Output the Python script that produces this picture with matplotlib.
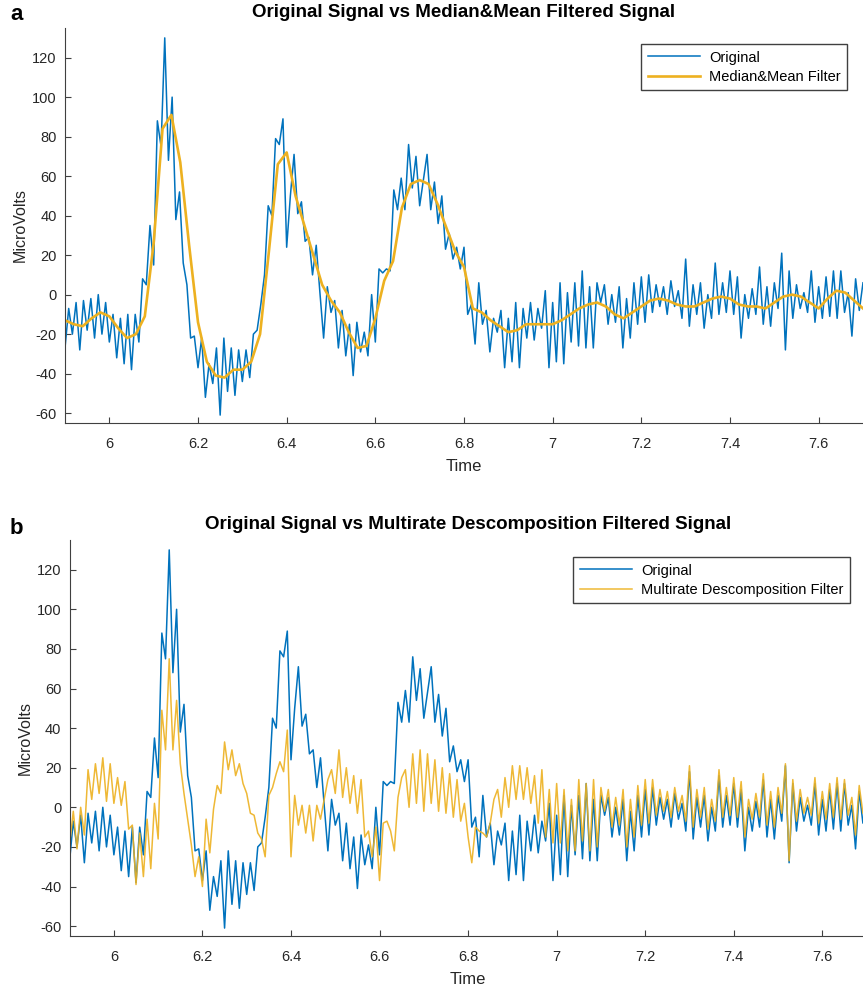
import numpy as np
import matplotlib
matplotlib.use("Agg")
import matplotlib.pyplot as plt

plt.rcParams['font.family'] = ['Liberation Sans', 'DejaVu Sans']
plt.rcParams['axes.unicode_minus'] = False

# sample rate of the traces (half a 60 Hz cycle) and start time
fs = 120
t0 = 5.9

# original recording, microvolts
original = [
    -27, -7, -20, -4, -28, -3, -18, -2, -22, 0,
    -20, -4, -24, -10, -32, -12, -35, -10, -38, -10,
    -24, 8, 5, 35, 15, 88, 75, 130, 68, 100,
    38, 52, 16, 5, -22, -21, -37, -22, -52, -35,
    -45, -27, -61, -22, -49, -27, -51, -28, -44, -28,
    -42, -20, -18,
    -5, 10, 45, 40, 79, 76, 89, 24, 50, 71,
    41, 47, 27, 29, 10, 25, 1, -22, 4, -9,
    -3, -27, -8, -31, -15, -41, -14, -29, -19, -31,
    0, -24, 13, 11, 13, 12, 53, 43, 59, 43,
    76, 54, 70, 45, 58, 71, 43, 57, 36, 50,
    23, 31, 18, 24, 13, 24, -10,
    -5, -25, 6, -15, -8, -29, -12, -19, -8, -37,
    -12, -34, -4, -37, -7, -22, -4, -23, -7, -17,
    2, -37, -4, -34, 6, -35, 1, -24, 6, -26,
    12, -27, 4, -27, 6, -4, 5, -15, 0, -14,
    4, -27, -2, -22, 6, -15, 9, -14, 10, -9,
    5, -6, 4, -10, 7,
    -6, 2, -12, 18, -16, 5, -10, 6, -17, 0,
    -12, 16, -10, 6, -9, 12, -10, 9, -22, 0,
    -12, 3, -10, 14, -15, 4, -16, 6, -7, 21,
    -28, 12, -12, 5, -7, 1, -9, 12, -14, 4,
    -12, 9, -11, 12, -12, 12, -9, 1, -21, 8,
    -8, 6,
]

# median & mean filtered signal, sampled every 0.02 s
median_mean = [
    -13, -15, -16, -12, -9, -11, -17, -22, -20, -11,
    26, 84, 91, 67, 25, -14, -34, -41, -42, -38,
    -38, -34, -20, 22, 66, 72, 50, 35, 20, 5,
    -3, -9, -19, -27, -26, -12, 7, 17, 44, 56,
    58, 56, 46, 34, 22, 14, -7, -9, -13, -16,
    -19, -18, -15, -15, -15, -15, -13, -10, -7, -5,
    -4, -6, -10, -12, -9, -6, -3, -2, -3, -5,
    -6, -6, -4, -2, -1, -2, -5, -6, -6, -7,
    -4, -1, 0, -1, -4, -7, -2, 2, 1, -3,
    -7,
]
mm_step = 0.02

# multirate decomposition filtered signal, same sampling as original
multirate = [
    -19, -2, -21, 0, -14, 19, 4, 22, 7, 25,
    3, 22, 2, 15, 1, 13, -11, -9, -39, -13,
    -35, -6, -31, 2, -16, 49, 29, 75, 29, 54,
    22, 7, -6, -19, -35, -25, -40, -6, -23, -1,
    11, 7, 33, 19, 29, 16, 22, 12, 7, -3,
    -4, -13, -16, -25, 6, 10, 17, 23, 18, 39,
    -25, 6, -9, 1, -13, 1, -17, 1, -6, 4,
    14, 19, 7, 29, 5, 20, 2, 16, -3, 14,
    -15, -12, -25, -10, -37, -8, -7, -12, -22, 5,
    15, 19, 0, 27, 2, 29, -2, 27, 2, 24,
    -2, 20, -3, 17, -5, 14, -7, 2, -15, -28,
    -10, -12, -13, -15, -8, 4, 9, -5, 15, 0,
    21, 4, 21, 4, 20, 2, 16, -8, 19, -15,
    9, -18, 12, -18, 9, -22, 4, -22, 14, -17,
    12, -22, 14, -20,
    10, -2, 9, -10, 5, -9, 9, -20, 4, -15,
    11, -9, 14, -8, 14, -4, 9, -2, 8, -5,
    10, -2, 6, -7, 21, -10, 9, -5, 10, -11,
    4, -7, 19, -5, 10, -4, 15, -5, 13, -15,
    4, -6, 7, -5, 17, -9, 8, -10, 10, -3,
    22, -27, 14, -7, 9, -3, 5, -4, 15, -8,
    8, -6, 12, -5, 15, -6, 14, -4, 5, -14,
    11, -3, 8,
]

t_sig = t0 + np.arange(len(original)) / fs
t_mm = t0 + mm_step * np.arange(len(median_mean))
t_mr = t0 + np.arange(len(multirate)) / fs

blue = '#0072BD'
yellow = '#EDB120'
axc = '#404040'

xticks = [6, 6.2, 6.4, 6.6, 6.8, 7, 7.2, 7.4, 7.6]
xticklabels = ['6', '6.2', '6.4', '6.6', '6.8', '7', '7.2', '7.4', '7.6']
yticks = list(range(-60, 121, 20))

W, H = 863, 992
fig = plt.figure(figsize=(W / 100, H / 100), dpi=100)


def style(ax):
    ax.set_xlim(5.9, 7.7)
    ax.set_ylim(-65, 135)
    ax.set_xticks(xticks)
    ax.set_xticklabels(xticklabels)
    ax.set_yticks(yticks)
    for s in ['top', 'right']:
        ax.spines[s].set_visible(False)
    for s in ['left', 'bottom']:
        ax.spines[s].set_color(axc)
        ax.spines[s].set_linewidth(0.8)
    ax.tick_params(direction='in', length=4, width=0.8, colors=axc,
                   labelsize=10.5, labelcolor='#262626')
    ax.tick_params(axis='x', pad=10)
    ax.tick_params(axis='y', pad=6)
    ax.set_xlabel('Time', fontsize=12, color='#262626', labelpad=6)
    ax.set_ylabel('MicroVolts', fontsize=11.5, color='#262626', labelpad=3)


def add_legend(ax, x_right, y_top):
    ax.legend(loc='upper right', bbox_to_anchor=(x_right / W, 1 - y_top / H),
              bbox_transform=fig.transFigure, borderaxespad=0,
              fontsize=10.5, frameon=True, fancybox=False, edgecolor=axc,
              framealpha=1, handlelength=3.6, borderpad=0.45,
              labelspacing=0.35, handletextpad=0.6)


# panel a
ax1 = fig.add_axes([65 / W, 1 - 423 / H, 798 / W, 395 / H])
ax1.plot(t_sig, original, color=blue, lw=1.1, label='Original')
ax1.plot(t_mm, median_mean, color=yellow, lw=1.9, label='Median&Mean Filter')
style(ax1)
ax1.set_title('Original Signal vs Median&Mean Filtered Signal',
              fontsize=13.5, fontweight='bold', pad=8)
add_legend(ax1, 847, 44)
fig.text(10 / W, 1 - 20 / H, 'a', fontsize=16, fontweight='bold')

# panel b
ax2 = fig.add_axes([69.6 / W, 1 - 936 / H, 797 / W, 396 / H])
ax2.plot(t_sig, original, color=blue, lw=1.1, label='Original')
ax2.plot(t_mr, multirate, color=yellow, lw=1.1, alpha=0.9,
         label='Multirate Descomposition Filter')
style(ax2)
ax2.set_title('Original Signal vs Multirate Descomposition Filtered Signal',
              fontsize=13.5, fontweight='bold', pad=8)
add_legend(ax2, 850, 557)
fig.text(10 / W, 1 - 534 / H, 'b', fontsize=16, fontweight='bold')

fig.savefig('out.png', dpi=100)
